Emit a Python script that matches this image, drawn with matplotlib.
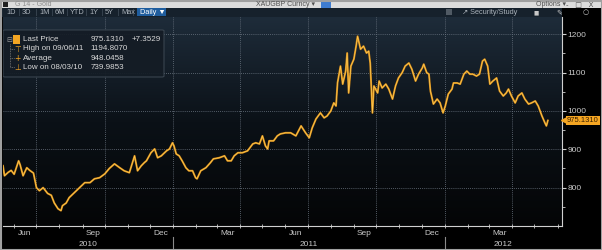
import numpy as np
import pandas as pd
import matplotlib
matplotlib.use("Agg")
import matplotlib.pyplot as plt
from matplotlib.colors import LinearSegmentedColormap
from matplotlib.patches import Rectangle, FancyBboxPatch

plt.rcParams['font.family'] = ['Liberation Sans', 'DejaVu Sans']

# XAUGBP daily close (approximate)
dates = [
    "2010-05-17", "2010-05-19", "2010-05-24", "2010-05-28", "2010-06-01", "2010-06-07",
    "2010-06-09", "2010-06-13", "2010-06-18", "2010-06-22", "2010-06-27", "2010-07-01",
    "2010-07-05", "2010-07-10", "2010-07-16", "2010-07-21", "2010-07-25", "2010-07-30",
    "2010-08-03", "2010-08-05", "2010-08-10", "2010-08-14", "2010-08-21", "2010-08-28",
    "2010-09-04", "2010-09-11", "2010-09-17", "2010-09-24", "2010-10-01", "2010-10-07",
    "2010-10-14", "2010-10-21", "2010-10-27", "2010-11-03", "2010-11-08", "2010-11-10",
    "2010-11-14", "2010-11-19", "2010-11-23", "2010-11-26", "2010-12-02", "2010-12-07",
    "2010-12-11", "2010-12-16", "2010-12-23", "2010-12-27", "2010-12-31", "2011-01-02",
    "2011-01-05", "2011-01-09", "2011-01-13", "2011-01-18", "2011-01-22", "2011-01-27",
    "2011-01-31", "2011-02-02", "2011-02-07", "2011-02-14", "2011-02-20", "2011-02-24",
    "2011-03-04", "2011-03-11", "2011-03-15", "2011-03-20", "2011-03-24", "2011-03-29",
    "2011-04-04", "2011-04-11", "2011-04-18", "2011-04-22", "2011-04-27", "2011-05-01",
    "2011-05-05", "2011-05-08", "2011-05-10", "2011-05-16", "2011-05-21", "2011-05-25",
    "2011-06-01", "2011-06-08", "2011-06-15", "2011-06-22", "2011-06-28", "2011-07-03",
    "2011-07-07", "2011-07-12", "2011-07-18", "2011-07-23", "2011-07-27", "2011-08-01",
    "2011-08-05", "2011-08-08", "2011-08-10", "2011-08-14", "2011-08-17", "2011-08-21",
    "2011-08-23", "2011-08-25", "2011-08-28", "2011-09-01", "2011-09-04", "2011-09-06",
    "2011-09-10", "2011-09-14", "2011-09-18", "2011-09-21", "2011-09-23", "2011-09-26",
    "2011-09-28", "2011-10-03", "2011-10-05", "2011-10-09", "2011-10-14", "2011-10-18",
    "2011-10-23", "2011-10-27", "2011-10-31", "2011-11-05", "2011-11-09", "2011-11-14",
    "2011-11-18", "2011-11-23", "2011-11-27", "2011-12-02", "2011-12-04", "2011-12-08",
    "2011-12-11", "2011-12-13", "2011-12-17", "2011-12-22", "2011-12-26", "2011-12-30",
    "2012-01-02", "2012-01-06", "2012-01-11", "2012-01-13", "2012-01-18", "2012-01-22",
    "2012-01-27", "2012-01-31", "2012-02-04", "2012-02-08", "2012-02-13", "2012-02-17",
    "2012-02-21", "2012-02-24", "2012-02-28", "2012-03-02", "2012-03-06", "2012-03-11",
    "2012-03-15", "2012-03-20", "2012-03-24", "2012-03-27", "2012-03-31", "2012-04-05",
    "2012-04-09", "2012-04-14", "2012-04-18", "2012-04-23", "2012-04-27", "2012-05-02",
    "2012-05-06", "2012-05-11", "2012-05-15", "2012-05-17", "2012-05-19",
]
prices = [
    857, 831, 840, 845, 835, 870,
    860, 831, 852, 845, 838, 800,
    792, 800, 785, 780, 760, 745,
    739.99, 753, 760, 774, 787, 800,
    813, 813, 823, 826, 836, 850,
    862, 852, 844, 839, 870, 883,
    844, 857, 865, 870, 891, 901,
    878, 883, 896, 901, 917, 909,
    888, 883, 870, 852, 844, 844,
    826, 823, 844, 852, 865, 875,
    878, 883, 870, 870, 883, 891,
    891, 896, 914, 917, 914, 935,
    909, 901, 922, 922, 935, 940,
    943, 943, 935, 961, 943, 930,
    956, 979, 995, 982, 987, 1000,
    1021, 1013, 1073, 1117, 1070, 1104,
    1151, 1047, 1117, 1135, 1169, 1194.81,
    1161, 1169, 1151, 1156, 1125, 995,
    1065, 1047, 1078, 1060, 1070, 1057,
    1031, 1065, 1086, 1100, 1117, 1125,
    1109, 1078, 1096, 1112, 1122, 1100,
    1096, 1052, 1018, 1031, 1021, 995,
    1013, 1044, 1057, 1073, 1073, 1070,
    1096, 1104, 1096, 1096, 1091, 1096,
    1130, 1135, 1117, 1070, 1078, 1086,
    1052, 1039, 1047, 1057, 1039, 1021,
    1039, 1047, 1031, 1018, 1021, 1026,
    1013, 987, 969, 961, 975.131,
]

legend_rows = ["Last Price", "High on 09/06/11", "Average", "Low on 08/03/10"]
legend_vals = ["975.1310", "1194.8070", "948.0458", "739.9853"]
last_change = "+7.3529"
range_buttons = ["1D", "3D", "1M", "6M", "YTD", "1Y", "5Y", "Max"]

x = pd.to_datetime(dates)
y = np.array(prices)

fig = plt.figure(figsize=(6.02, 2.5), dpi=100, facecolor="black")

# main plot area
ax = fig.add_axes([3 / 602, 24 / 250, 559 / 602, 209 / 250])
cmap = LinearSegmentedColormap.from_list("bg", ["#040506", "#0b1117", "#1e2c3a"])
ax.imshow(np.linspace(0, 1, 256).reshape(-1, 1), extent=[0, 1, 0, 1], origin="lower",
          transform=ax.transAxes, cmap=cmap, aspect="auto", zorder=0)

x0 = pd.Timestamp("2010-05-17")
x1 = pd.Timestamp("2012-06-07")
ax.set_xlim(x0, x1)
ax.set_ylim(700, 1245)

# gridlines
for q in pd.date_range("2010-07-01", "2012-04-01", freq="QS"):
    ax.axvline(q, color="#6c7682", lw=0.6, ls=(0, (1, 1.5)), zorder=1)
for v in range(800, 1201, 100):
    ax.axhline(v, color="#6c7682", lw=0.6, ls=(0, (1, 1.5)), zorder=1)

ax.plot(x, y, color="#d08818", lw=1.4, zorder=3)
ax.plot(x, y, color="#ffc850", lw=0.55, zorder=4)

# axes styling
for s in ["top", "left"]:
    ax.spines[s].set_visible(False)
ax.spines["right"].set_color("#d0d0d0")
ax.spines["bottom"].set_color("#d0d0d0")
ax.spines["right"].set_linewidth(0.8)
ax.spines["bottom"].set_linewidth(0.8)
ax.yaxis.tick_right()
ax.set_yticks(range(800, 1201, 100))
ax.set_yticks(range(750, 1250, 50), minor=True)
ax.tick_params(axis="y", which="major", colors="#d0d0d0", labelcolor="#c8c8c8",
               labelsize=6, length=3, width=0.8, pad=1)
ax.tick_params(axis="y", which="minor", colors="#d0d0d0", length=2, width=0.6)

ax.set_xticks([])
ax.set_xticks(pd.date_range("2010-06-01", "2012-06-01", freq="MS"), minor=True)
ax.tick_params(axis="x", which="minor", colors="#d0d0d0", length=3, width=0.6,
               direction="inout")

trans = ax.get_xaxis_transform()
for m in pd.date_range("2010-06-01", "2012-03-01", freq="3MS"):
    ax.text(m + pd.Timedelta(days=14), -0.035, m.strftime("%b"), transform=trans,
            ha="center", va="center", color="#c8c8c8", fontsize=6, clip_on=False)

year_edges = [x0, pd.Timestamp("2011-01-01"), pd.Timestamp("2012-01-01"), x1]
for i, yr in enumerate(["2010", "2011", "2012"]):
    mid = year_edges[i] + (year_edges[i + 1] - year_edges[i]) / 2
    ax.text(mid, -0.09, yr, transform=trans, ha="center", va="center",
            color="#c8c8c8", fontsize=6, clip_on=False)
for e in year_edges[1:3]:
    ax.plot([e, e], [-0.055, -0.115], transform=trans, color="#8a8a8a", lw=0.8,
            clip_on=False)

# last price tag
ax.plot([1.004], [y[-1]], marker="<", ms=4, color="#f5a623",
        transform=ax.get_yaxis_transform(), clip_on=False, zorder=6)
ax.text(1.009, y[-1], legend_vals[0], transform=ax.get_yaxis_transform(),
        ha="left", va="center", fontsize=5.5, color="#3a2000",
        bbox=dict(boxstyle="square,pad=0.12", fc="#f5a623", ec="none"), zorder=7)

# legend box
ax.add_patch(FancyBboxPatch((0.0, 0.713), 0.288, 0.225, boxstyle="round,pad=0,rounding_size=0.004",
                            transform=ax.transAxes, fc="#141c25", ec="#3c4752",
                            lw=0.8, alpha=0.92, zorder=8))
rows_y = [0.892, 0.847, 0.803, 0.760]
ax.plot([0.012, 0.012], [rows_y[0] - 0.02, rows_y[3]], transform=ax.transAxes,
        color="#7a7a7a", lw=0.6, ls=(0, (1, 1)), zorder=9)
ax.text(0.012, rows_y[0], "\u229f", transform=ax.transAxes, ha="center", va="center",
        color="#9a9a9a", fontsize=5, zorder=10, family="DejaVu Sans")
ax.add_patch(Rectangle((0.018, rows_y[0] - 0.022), 0.012, 0.044, transform=ax.transAxes,
                       fc="#f5a623", ec="none", zorder=10))
for sym, ry in zip(["\u22a4", "+", "\u22a5"], rows_y[1:]):
    ax.plot([0.012, 0.022], [ry, ry], transform=ax.transAxes, color="#7a7a7a",
            lw=0.6, ls=(0, (1, 1)), zorder=9)
    ax.text(0.026, ry, sym, transform=ax.transAxes, ha="center", va="center",
            color="#f5a623", fontsize=5.5, zorder=10, family="DejaVu Sans")
for lab, val, ry in zip(legend_rows, legend_vals, rows_y):
    ax.text(0.035, ry, lab, transform=ax.transAxes, ha="left", va="center",
            color="#d8d8d8", fontsize=5.8, zorder=10)
    ax.text(0.156, ry, val, transform=ax.transAxes, ha="left", va="center",
            color="#d8d8d8", fontsize=5.8, zorder=10)
ax.text(0.230, rows_y[0], last_change, transform=ax.transAxes, ha="left", va="center",
        color="#d8d8d8", fontsize=5.8, zorder=10)

# title bar
fig.patches.append(Rectangle((0, 242 / 250), 1, 8 / 250, transform=fig.transFigure,
                             fc="#dcdcdc", ec="none", zorder=0))
fig.patches.append(Rectangle((3 / 602, 243 / 250), 5 / 602, 6 / 250, transform=fig.transFigure,
                             fc="#202020", ec="none"))
fig.text(15 / 602, 246 / 250, "G 14 - Gold", color="#909090", fontsize=5, va="center")
fig.text(256 / 602, 246 / 250, "XAUGBP Curncy \u25be", color="#505050", fontsize=5,
         va="center")
fig.patches.append(Rectangle((321 / 602, 242.5 / 250), 10 / 602, 7 / 250,
                             transform=fig.transFigure, fc="#3f7ccf", ec="none"))
fig.text(536 / 602, 246 / 250, "Options \u25be", color="#505050", fontsize=5, va="center")
fig.text(566 / 602, 246 / 250, "-   \u25a1   X", color="#505050", fontsize=5, va="center",
         family="DejaVu Sans")

# toolbar
fig.patches.append(Rectangle((0, 233 / 250), 562 / 602, 9 / 250, transform=fig.transFigure,
                             fc="#16212c", ec="none"))
bx = [6, 22, 39, 55, 70, 89, 105, 121]
for b, px in zip(range_buttons, bx):
    fig.text(px / 602, 237.5 / 250, b, color="#a8b0b8", fontsize=5.3, va="center")
for px in bx[1:] + [136]:
    fig.patches.append(Rectangle(((px - 3) / 602, 234 / 250), 0.6 / 602, 7 / 250,
                                 transform=fig.transFigure, fc="#34404c", ec="none"))
fig.patches.append(Rectangle((137 / 602, 234 / 250), 29 / 602, 8 / 250,
                             transform=fig.transFigure, fc="#1f5d9e", ec="none"))
fig.text(140 / 602, 237.5 / 250, "Daily \u25bc", color="white", fontsize=5.3, va="center")
fig.patches.append(Rectangle((446 / 602, 235 / 250), 6 / 602, 6 / 250,
                             transform=fig.transFigure, fc="#505a64", ec="none"))
fig.text(462 / 602, 237.5 / 250, "\u2197 Security/Study", color="#a8b0b8", fontsize=5.3,
         va="center")
fig.text(534 / 602, 237.5 / 250, "\u25a0", color="#c8c8c8", fontsize=4, va="center",
         family="DejaVu Sans")
fig.text(556 / 602, 237.5 / 250, "\u270e", color="#c8c8c8", fontsize=5, va="center",
         family="DejaVu Sans")
fig.text(583 / 602, 237.5 / 250, "\u25cb", color="#c8c8c8", fontsize=5, va="center",
         family="DejaVu Sans")

# outer frame
fig.patches.append(Rectangle((0.5 / 602, 0.5 / 250), 601 / 602, 249 / 250,
                             transform=fig.transFigure, fill=False, ec="#a0a0a0", lw=1.5))

fig.savefig("out.png", dpi=100, facecolor="black")
